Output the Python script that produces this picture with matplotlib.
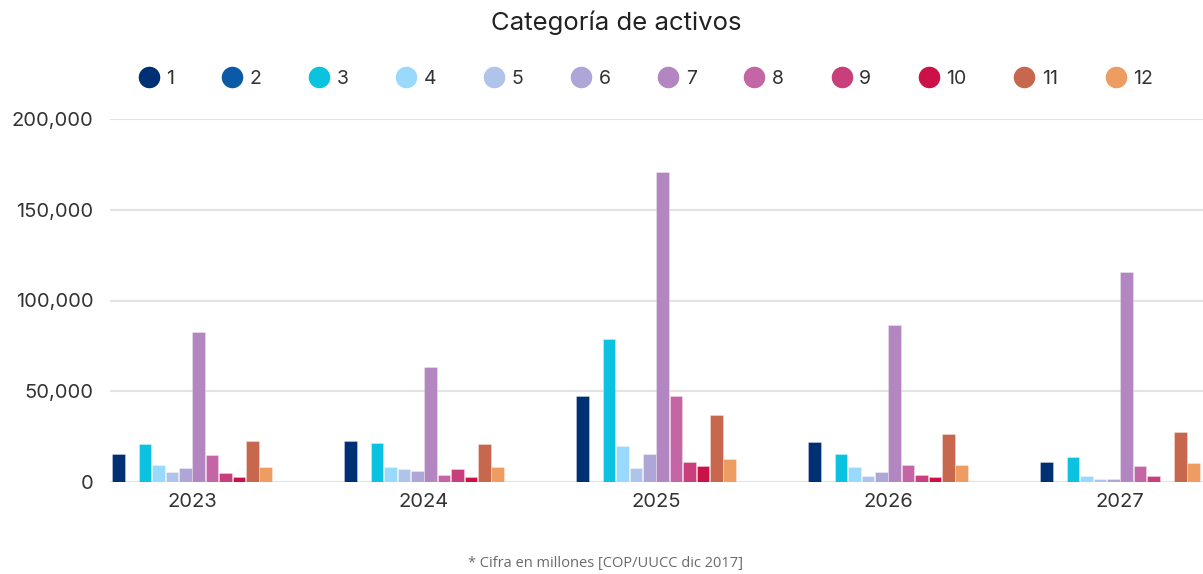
import matplotlib
matplotlib.use("Agg")
import matplotlib.pyplot as plt
from matplotlib.lines import Line2D
from matplotlib.ticker import FuncFormatter
import numpy as np

years = ["2023", "2024", "2025", "2026", "2027"]
categories = ["1", "2", "3", "4", "5", "6", "7", "8", "9", "10", "11", "12"]
colors = ["#003074", "#0a5aa8", "#0bc3e0", "#99d9fb", "#aec4ea", "#ada6d6",
          "#b386c2", "#c466a6", "#c83f7b", "#cc1149", "#c7684e", "#ed9c62"]

cat1 = [15600, 22400, 47200, 22000, 11000]
cat2 = [0, 0, 0, 0, 0]
cat3 = [20900, 21500, 78800, 15400, 13900]
cat4 = [9400, 8100, 19600, 8250, 3500]
cat5 = [5300, 7400, 7700, 3100, 1650]
cat6 = [7900, 6300, 15400, 5300, 1650]
cat7 = [82500, 63200, 171000, 86700, 115900]
cat8 = [14900, 3700, 47200, 9400, 9000]
cat9 = [4800, 7000, 11000, 3700, 3100]
cat10 = [2750, 2750, 8600, 2750, 0]
cat11 = [22400, 20900, 37100, 26400, 27700]
cat12 = [8250, 8100, 12800, 9400, 10500]
series = [cat1, cat2, cat3, cat4, cat5, cat6, cat7, cat8, cat9, cat10, cat11, cat12]

title = "Categoría de activos"
footnote = "* Cifra en millones [COP/UUCC dic 2017]"

plt.rcParams['font.family'] = ['Inter', 'DejaVu Sans']

fig = plt.figure(figsize=(12.03, 5.74), dpi=100)
ax = fig.add_axes([110/1203, 1-482/574, 1-110/1203, (482-119)/574])

x = np.arange(len(years))
slot = 13.4/232
bw = 12.5/232
for j, (vals, c) in enumerate(zip(series, colors)):
    ax.bar(x + (j-5.5)*slot, vals, width=bw, color=c, edgecolor=(1, 1, 1, 0.35),
           linewidth=0.6, zorder=3)

ax.set_xlim(-82/232, (1203-192)/232)
ax.set_ylim(0, 200000)
ax.set_yticks([0, 50000, 100000, 150000, 200000])
ax.yaxis.set_major_formatter(FuncFormatter(lambda v, p: f"{int(v):,}"))
ax.set_xticks(x)
ax.set_xticklabels(years)
ax.grid(axis='y', color='#e3e3e3', linewidth=1.5, zorder=0)
ax.set_axisbelow(True)
for s in ax.spines.values():
    s.set_visible(False)
ax.tick_params(axis='both', length=0, labelsize=14.5, colors='#333333')
ax.tick_params(axis='y', pad=12)
ax.tick_params(axis='x', pad=8)

handles = [Line2D([0], [0], marker='o', linestyle='none', markersize=14.5,
                  markerfacecolor=c, markeredgecolor=c) for c in colors]
leg = fig.legend(handles, categories, loc='center', bbox_to_anchor=(645/1203, 1-79/574),
                 ncol=12, frameon=False, fontsize=14, handletextpad=0.3,
                 columnspacing=2.37, handlelength=1.2)
for t in leg.get_texts():
    t.set_color('#333333')

fig.text(616/1203, 1-23/574, title, ha='center', va='center', fontsize=18.5, color='#222222')
fig.text(605/1203, 1-563/574, footnote, ha='center', va='center', fontsize=10.5,
         color='#6a6a6a', family=['Open Sans', 'DejaVu Sans'])

fig.savefig("out.png", dpi=100, facecolor='white')
